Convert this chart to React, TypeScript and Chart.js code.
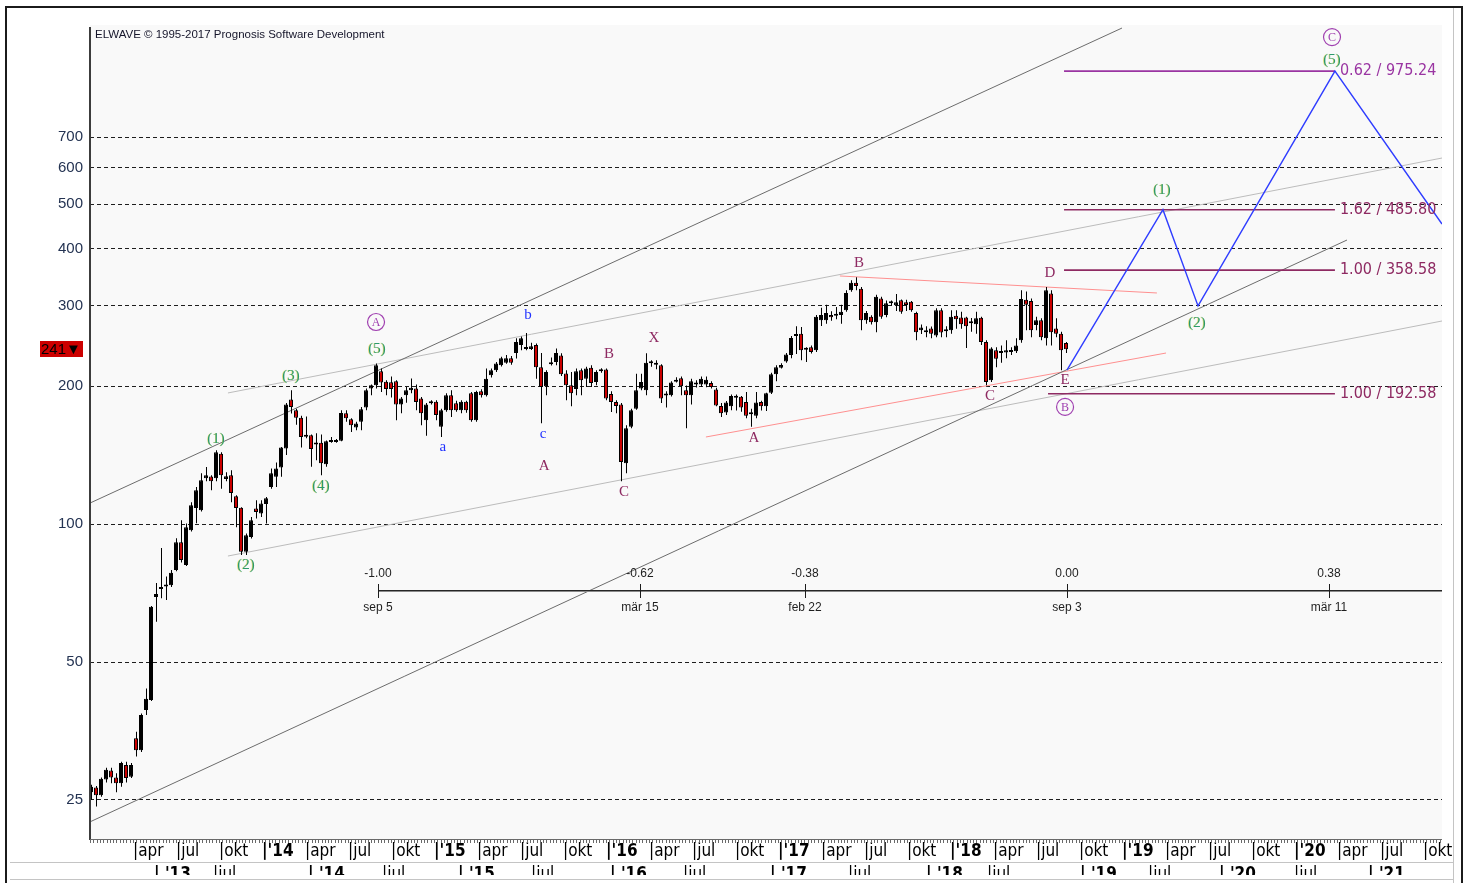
import React, { useEffect, useRef } from 'react';
import { Chart, registerables } from 'chart.js';

Chart.register(...registerables);

// ---------------- price bars ----------------
const opens = [
  26.0, 26.6, 25.6, 27.7, 29.0, 28.0, 27.2, 29.8, 28.1, 34.1,
  32.1, 39.3, 41.3, 69.3, 72.2, 73.1, 73.6, 79.4, 91.3, 81.4,
  97.0, 108.4, 107.3, 125.9, 127.0, 125.9, 142.5, 125.5, 127.8, 115.1,
  108.6, 87.0, 93.8, 108.2, 105.5, 110.6, 120.5, 126.9, 133.0, 146.3,
  187.1, 177.3, 170.7, 155.1, 156.4, 150.8, 150.5, 135.2, 151.2, 151.2,
  152.0, 174.6, 169.4, 162.5, 167.3, 179.7, 197.7, 201.0, 215.7, 204.5,
  204.2, 205.1, 182.4, 191.3, 196.0, 197.7, 188.0, 168.6, 183.6, 185.0,
  163.1, 177.3, 191.3, 183.6, 177.3, 185.0, 193.0, 168.6, 195.0, 191.3,
  211.4, 216.8, 222.3, 225.0, 230.3, 236.5, 246.2, 241.3, 241.3, 246.2,
  220.1, 200.0, 223.4, 226.0, 233.5, 213.2, 201.0, 197.4, 216.8, 207.8,
  219.5, 204.3, 217.8, 217.5, 192.3, 184.8, 182.4, 135.9, 163.1, 178.6,
  197.7, 196.0, 225.0, 224.2, 222.3, 192.2, 191.3, 204.5, 208.3, 196.0,
  191.3, 201.7, 201.7, 201.7, 203.3, 196.7, 181.2, 175.2, 180.8, 188.9,
  189.8, 184.8, 175.2, 172.5, 184.8, 180.8, 193.6, 212.5, 219.6, 226.6,
  234.2, 257.6, 260.3, 240.2, 243.3, 239.7, 278.6, 278.6, 286.2, 285.0,
  286.2, 293.0, 324.0, 336.5, 326.7, 278.6, 283.8, 275.8, 311.0, 286.2,
  303.5, 300.6, 308.4, 305.3, 305.8, 288.9, 265.0, 262.3, 267.3, 258.0,
  293.0, 263.7, 265.0, 285.0, 282.7, 282.7, 274.4, 273.1, 282.1, 250.0,
  206.1, 239.7, 236.5, 236.9, 239.7, 238.5, 252.0, 309.0, 306.9, 272.0,
  278.6, 254.6, 318.7, 267.3, 260.6, 248.7,
];
const highs = [
  27.0, 26.8, 28.0, 29.4, 29.4, 28.6, 30.3, 30.3, 30.1, 35.2,
  38.6, 43.8, 66.3, 74.4, 88.7, 76.9, 79.4, 93.2, 102.0, 100.3,
  111.7, 120.6, 129.1, 133.3, 127.8, 145.0, 143.5, 129.8, 131.2, 115.7,
  108.9, 95.4, 103.7, 112.8, 112.8, 114.7, 132.3, 136.4, 147.3, 183.9,
  196.0, 178.6, 172.4, 171.8, 157.0, 158.0, 157.0, 152.2, 154.9, 153.4,
  177.3, 177.3, 170.4, 167.3, 180.3, 197.8, 201.7, 224.2, 218.7, 206.1,
  210.0, 206.1, 189.6, 199.4, 208.0, 201.7, 189.6, 183.9, 186.4, 186.4,
  178.6, 193.0, 196.0, 186.0, 186.4, 186.0, 194.3, 195.6, 197.0, 218.7,
  218.7, 226.0, 232.0, 234.0, 233.0, 254.6, 257.0, 261.3, 249.0, 248.0,
  236.5, 216.8, 231.0, 241.7, 236.0, 216.8, 215.0, 218.7, 218.7, 220.5,
  222.3, 216.8, 219.0, 218.7, 195.0, 186.4, 183.9, 164.5, 178.6, 213.0,
  213.0, 236.0, 228.0, 228.0, 223.4, 195.0, 205.1, 209.4, 210.0, 200.7,
  207.8, 206.1, 210.0, 210.0, 205.1, 198.6, 183.9, 185.8, 192.0, 192.0,
  190.4, 194.3, 178.6, 194.3, 186.0, 193.6, 214.1, 222.3, 224.6, 236.5,
  257.6, 270.5, 269.3, 243.3, 245.4, 286.2, 296.7, 301.5, 291.6, 298.0,
  301.5, 324.0, 340.6, 346.0, 329.6, 292.0, 286.0, 316.7, 313.6, 308.0,
  308.0, 318.0, 309.3, 309.0, 306.9, 290.8, 273.0, 270.6, 270.0, 296.0,
  296.0, 270.5, 293.0, 293.0, 290.8, 283.8, 282.0, 291.0, 283.8, 252.0,
  243.5, 243.5, 245.4, 252.0, 243.5, 254.6, 324.0, 322.0, 311.0, 283.8,
  281.4, 329.6, 324.0, 281.4, 263.0, 250.0,
];
const lows = [
  25.0, 24.2, 25.4, 27.3, 27.2, 26.0, 26.7, 27.3, 27.9, 31.1,
  31.8, 38.3, 41.1, 61.2, 68.9, 68.3, 72.9, 78.9, 82.5, 81.0,
  96.4, 100.5, 106.6, 124.0, 118.6, 124.0, 119.5, 124.0, 111.7, 98.5,
  85.6, 85.6, 93.1, 102.9, 103.7, 100.3, 119.5, 120.6, 126.9, 141.5,
  174.4, 164.9, 147.0, 154.0, 133.4, 137.9, 127.8, 133.4, 150.5, 150.5,
  151.8, 167.3, 159.0, 160.4, 160.4, 177.3, 191.3, 197.7, 194.3, 191.3,
  189.0, 168.6, 174.6, 184.0, 193.0, 177.3, 164.5, 155.9, 182.4, 168.6,
  154.9, 176.0, 171.4, 176.0, 174.6, 175.0, 167.3, 167.3, 189.0, 190.0,
  209.0, 215.0, 221.0, 224.0, 223.0, 230.0, 239.7, 239.7, 240.0, 207.8,
  166.1, 191.3, 222.0, 222.3, 210.5, 186.4, 180.8, 191.3, 191.3, 199.2,
  199.2, 201.0, 214.0, 186.4, 175.7, 174.6, 124.0, 129.2, 162.0, 177.8,
  196.0, 191.3, 220.7, 218.0, 183.9, 179.7, 190.0, 203.8, 191.3, 162.0,
  182.4, 198.8, 199.2, 199.0, 197.7, 180.8, 171.4, 173.1, 177.3, 177.0,
  176.0, 170.4, 163.1, 170.4, 177.0, 176.6, 192.3, 205.1, 218.7, 225.0,
  230.3, 235.3, 227.9, 226.0, 235.8, 237.7, 270.9, 274.0, 278.0, 280.0,
  274.0, 290.8, 321.5, 324.0, 265.0, 274.0, 273.0, 262.3, 281.0, 283.0,
  300.0, 292.0, 288.0, 292.0, 290.8, 252.0, 260.0, 256.0, 254.6, 256.0,
  256.0, 256.0, 260.6, 267.0, 267.0, 242.4, 263.0, 260.6, 246.0, 201.0,
  204.3, 220.1, 225.0, 230.3, 234.0, 236.5, 249.0, 265.0, 255.8, 265.0,
  252.0, 245.4, 245.4, 255.8, 216.8, 236.5,
];
const closes = [
  26.7, 25.6, 27.8, 29.1, 28.0, 27.2, 30.1, 27.9, 29.8, 32.1,
  38.3, 41.6, 66.0, 70.4, 72.9, 73.6, 78.3, 91.3, 83.5, 98.5,
  110.0, 118.6, 124.7, 127.8, 124.0, 143.5, 127.8, 127.3, 116.9, 108.4,
  87.0, 94.6, 102.0, 106.3, 111.0, 113.9, 129.1, 132.3, 147.0, 182.4,
  180.2, 170.7, 154.9, 155.9, 145.9, 149.3, 135.9, 151.8, 152.2, 152.5,
  174.8, 170.3, 164.5, 165.9, 178.2, 196.0, 201.0, 222.3, 203.8, 197.4,
  197.4, 182.4, 188.0, 196.0, 198.6, 184.8, 174.6, 182.4, 185.0, 173.1,
  177.3, 191.3, 177.3, 177.3, 185.0, 177.3, 168.6, 194.3, 191.3, 207.8,
  216.8, 224.2, 230.3, 230.3, 225.0, 250.0, 254.6, 242.4, 244.5, 220.1,
  199.2, 215.0, 225.5, 236.5, 212.5, 201.0, 193.0, 215.7, 206.1, 218.7,
  203.3, 215.0, 215.7, 188.0, 184.8, 181.2, 136.6, 162.0, 177.3, 196.0,
  204.3, 225.0, 224.6, 223.0, 188.0, 191.0, 203.8, 206.1, 200.0, 191.3,
  205.1, 203.3, 207.8, 206.8, 199.2, 181.6, 174.6, 184.4, 190.4, 190.4,
  179.7, 172.5, 173.8, 184.4, 180.8, 193.0, 212.5, 220.1, 222.6, 234.7,
  255.0, 258.5, 239.7, 241.7, 237.7, 283.8, 286.2, 288.9, 283.1, 287.0,
  290.8, 319.7, 336.5, 331.1, 278.6, 288.9, 275.8, 313.6, 283.8, 303.5,
  306.0, 305.0, 291.0, 301.0, 293.0, 262.3, 268.7, 265.0, 260.6, 293.0,
  262.0, 265.9, 283.8, 280.0, 273.1, 270.6, 275.8, 281.4, 250.0, 204.3,
  241.7, 229.8, 237.8, 239.7, 237.7, 245.4, 310.2, 301.5, 265.0, 278.6,
  255.8, 324.0, 262.3, 260.6, 239.7, 240.8,
];
const firstBarYear = 2013.0058;
const barStepYears = 0.0290698;

// ---------------- axes ----------------
const xMinYear = 2013;
const xMaxYear = 2020.8605;
const yMinValue = 20.44;
const yMaxValue = 1229.6;
const yTickValues = [25, 50, 100, 200, 300, 400, 500, 600, 700];
const axisYears = [2013, 2014, 2015, 2016, 2017, 2018, 2019, 2020];
const quarterNames = ['', 'apr', 'jul', 'okt'];
const lowerRowLabels = ["| '13", '|jul', "| '14", '|jul', "| '15", '|jul', "| '16", '|jul', "| '17", '|jul', "| '18", '|jul', "| '19", '|jul', "| '20", '|jul', "| '21"];

// ---------------- channel / trend lines ----------------
const trendStartYear = [2013.0, 2013.0, 2013.802, 2013.802, 2017.36, 2016.581];
const trendStartValue = [111.2, 22.39, 193.4, 85.2, 348.2, 155.0];
const trendEndYear = [2019.0, 2020.308, 2020.8605, 2020.8605, 2019.203, 2019.256];
const trendEndValue = [1211, 417.2, 630, 277.7, 319.7, 236.4];
const trendColors = ['#6c6c6c', '#6c6c6c', '#bcbcbc', '#bcbcbc', '#ff9090', '#ff9090'];

// ---------------- fibonacci targets ----------------
const fibRatios = ['0.62', '1.62', '1.00', '1.00'];
const fibValues = [975.24, 485.8, 358.58, 192.58];
const fibStartYear = [2018.663, 2018.663, 2018.663, 2018.57];
const fibEndYear = [2020.238, 2020.238, 2020.238, 2020.238];
const fibColors = ['#9a35a2', '#8e2a62', '#8e2a62', '#8e2a62'];

// ---------------- projected path ----------------
const projYears = [2018.68, 2019.238, 2019.442, 2020.238, 2020.8605];
const projValues = [216.8, 485.8, 299.5, 975.24, 452];

// ---------------- time-ratio ruler ----------------
const ratioLabels = ['-1.00', '-0.62', '-0.38', '0.00', '0.38'];
const ratioDates = ['sep 5', 'mär 15', 'feb 22', 'sep 3', 'mär 11'];
const ratioYears = [2014.6744, 2016.1977, 2017.157, 2018.68, 2020.203];
const ratioAxisValue = 71.5;

// ---------------- wave labels ----------------
const greenLabelText = ['(1)', '(2)', '(3)', '(4)', '(5)', '(1)', '(2)', '(5)'];
const greenLabelYear = [2013.733, 2013.907, 2014.169, 2014.343, 2014.669, 2019.233, 2019.436, 2020.221];
const greenLabelValue = [153.5, 81.5, 210.6, 121.2, 241.2, 536.4, 274.9, 1031];
const blueLabelText = ['a', 'b', 'c'];
const blueLabelYear = [2015.052, 2015.547, 2015.634];
const blueLabelValue = [147.4, 286.1, 157.3];
const maroonLabelText = ['A', 'B', 'C', 'X', 'A', 'B', 'C', 'D', 'E'];
const maroonLabelYear = [2015.64, 2016.017, 2016.105, 2016.279, 2016.86, 2017.471, 2018.233, 2018.581, 2018.669];
const maroonLabelValue = [134.0, 235.2, 117.6, 255.0, 154.3, 371.7, 190.5, 353.5, 206.4];
const circledLabelText = ['A', 'B', 'C'];
const circledLabelYear = [2014.663, 2018.669, 2020.221];
const circledLabelValue = [276.3, 180.3, 1157];

const SANS = '"Liberation Sans", Arial, sans-serif';
const NARROW = '"Liberation Sans Narrow", "Arial Narrow", "DejaVu Sans Condensed", sans-serif';
const SERIF = '"Liberation Serif", "Times New Roman", serif';

function txt(ctx: any, s: string, x: number, y: number, font: string, color: string, align = 'center', baseline = 'middle') {
  ctx.font = font;
  ctx.fillStyle = color;
  ctx.textAlign = align;
  ctx.textBaseline = baseline;
  ctx.fillText(s, x, y);
}

const decorPlugin = {
  id: 'elwaveDecor',
  beforeDraw(chart: any) {
    const { ctx, chartArea: a, width, height } = chart;
    ctx.save();
    ctx.fillStyle = '#ffffff';
    ctx.fillRect(0, 0, width, height);
    ctx.fillStyle = '#f9f9f9';
    ctx.fillRect(a.left, a.top, a.right - a.left, a.bottom - a.top);
    ctx.restore();
  },
  afterDraw(chart: any) {
    const { ctx, chartArea: a, height } = chart;
    const xs = chart.scales.x;
    const ys = chart.scales.y;
    const px = (t: number) => xs.getPixelForValue(t);
    const py = (v: number) => ys.getPixelForValue(v);
    ctx.save();

    // outer frame
    ctx.fillStyle = '#1b1b1b';
    ctx.fillRect(5, 6, 2, height - 6);
    ctx.fillRect(5, 6, 1458, 2);
    ctx.fillRect(1461, 6, 2, height - 6);
    ctx.fillStyle = '#c4c4c4';
    ctx.fillRect(1453, 8, 1, height - 8);
    ctx.fillRect(10, 862, 1443, 1);
    ctx.fillRect(10, 879, 1443, 1);

    // axis lines + weekly minor ticks
    ctx.fillStyle = '#3c3c3c';
    ctx.fillRect(a.left - 1, a.top + 2, 2, a.bottom - a.top - 2);
    ctx.fillStyle = '#6a6a6a';
    ctx.fillRect(a.left, a.bottom - 1, a.right - a.left, 1);
    for (let t = xMinYear; t <= xMaxYear; t += 1 / 52) {
      ctx.fillRect(Math.round(px(t)), a.bottom, 1, 3);
    }

    // second (clipped) time row
    ctx.save();
    ctx.beginPath();
    ctx.rect(10, 864, 1443, 11);
    ctx.clip();
    const rowX = [154, 213, 308, 382, 458, 531, 610, 683, 770, 848, 926, 987, 1080, 1148, 1219, 1294, 1368];
    lowerRowLabels.forEach((s, i) => {
      const bold = s.indexOf("'") >= 0;
      txt(ctx, s, rowX[i], 866, `${bold ? 'bold ' : ''}17px ${NARROW}`, '#000', 'left', 'top');
    });
    ctx.restore();

    // copyright
    txt(ctx, 'ELWAVE © 1995-2017 Prognosis Software Development', a.left + 5, a.top + 10, `11.5px ${SANS}`, '#15152a', 'left');

    // last price marker
    const last = closes[closes.length - 1];
    const yM = py(last);
    ctx.fillStyle = '#cc0000';
    ctx.fillRect(a.left - 50, Math.round(yM) - 8, 43, 16);
    txt(ctx, `${Math.round(last)}▼`, a.left - 49, yM + 1, `15px ${SANS}`, '#000', 'left');

    // time ratio ruler
    const yL = Math.round(py(ratioAxisValue));
    const x0 = px(ratioYears[0]);
    ctx.fillStyle = '#262626';
    ctx.fillRect(x0, yL - 1, a.right - x0, 1);
    ctx.fillStyle = '#8a8a8a';
    ctx.fillRect(x0, yL, a.right - x0, 1);
    ratioYears.forEach((t, i) => {
      const x = Math.round(px(t));
      ctx.fillStyle = '#1c1c1c';
      ctx.fillRect(x, yL - 7, 1, 14);
      txt(ctx, ratioLabels[i], x, yL - 17, `12px ${SANS}`, '#1e1e1e');
      txt(ctx, ratioDates[i], x, yL + 17, `12px ${SANS}`, '#1e1e1e');
    });

    // fib texts
    fibValues.forEach((v, i) => {
      txt(ctx, `${fibRatios[i]} / ${v.toFixed(2)}`, px(fibEndYear[i]) + 5, py(v), `16px ${NARROW}`, fibColors[i], 'left');
    });

    // wave labels
    greenLabelText.forEach((s, i) => {
      const x = px(greenLabelYear[i]);
      const y = py(greenLabelValue[i]);
      txt(ctx, s, x - 0.7, y, `15px ${SERIF}`, 'rgba(215,205,60,0.7)');
      txt(ctx, s, x, y, `15px ${SERIF}`, '#2c9a6c');
    });
    blueLabelText.forEach((s, i) => {
      txt(ctx, s, px(blueLabelYear[i]), py(blueLabelValue[i]), `15px ${SERIF}`, '#2233ff');
    });
    maroonLabelText.forEach((s, i) => {
      txt(ctx, s, px(maroonLabelYear[i]), py(maroonLabelValue[i]), `15px ${SERIF}`, '#8e2a62');
    });
    circledLabelText.forEach((s, i) => {
      const x = px(circledLabelYear[i]);
      const y = py(circledLabelValue[i]);
      ctx.beginPath();
      ctx.arc(x, y, 8.5, 0, Math.PI * 2);
      ctx.strokeStyle = '#a040b0';
      ctx.lineWidth = 1.2;
      ctx.stroke();
      txt(ctx, s, x, y + 0.5, `12px ${SERIF}`, '#a040b0');
    });

    ctx.restore();
  },
};

export default function App() {
  const ref = useRef<HTMLCanvasElement>(null);

  useEffect(() => {
    document.body.style.margin = '0';
    const canvas = ref.current;
    if (!canvas) return;
    Chart.defaults.font.family = SANS;

    const barYears = closes.map((_, i) => firstBarYear + i * barStepYears);
    const wickShift = 0.0029;
    const bodyData = barYears.map((x, i) => ({ x, y: [opens[i], closes[i]] }));
    const wickData = barYears.map((x, i) => ({ x: x + wickShift, y: [lows[i], highs[i]] }));
    const bodyColors = closes.map((c, i) => (c >= opens[i] ? '#000000' : '#cc0000'));

    const lineDs = (data: any[], color: string, width: number, order: number) => ({
      type: 'line',
      data,
      borderColor: color,
      borderWidth: width,
      pointRadius: 0,
      pointHoverRadius: 0,
      fill: false,
      tension: 0,
      order,
    });

    const datasets: any[] = [
      lineDs(projYears.map((x, i) => ({ x, y: projValues[i] })), '#2f3dff', 1.4, 0),
      {
        type: 'bar',
        data: bodyData,
        backgroundColor: bodyColors,
        borderColor: '#000000',
        borderWidth: 1,
        borderSkipped: false,
        barThickness: 4,
        grouped: false,
        minBarLength: 2,
        inflateAmount: 0,
        order: 1,
      },
      {
        type: 'bar',
        data: wickData,
        backgroundColor: '#000000',
        borderWidth: 0,
        barThickness: 1,
        grouped: false,
        inflateAmount: 0,
        order: 2,
      },
    ];
    fibValues.forEach((v, i) => {
      datasets.push(lineDs([{ x: fibStartYear[i], y: v }, { x: fibEndYear[i], y: v }], fibColors[i], 1.6, 1));
    });
    trendStartYear.forEach((t, i) => {
      datasets.push(lineDs([{ x: t, y: trendStartValue[i] }, { x: trendEndYear[i], y: trendEndValue[i] }], trendColors[i], 1, 3));
    });

    const xTicks: number[] = [];
    axisYears.forEach((yr) => {
      quarterNames.forEach((_, q) => {
        const v = yr + q / 4;
        if (v > xMinYear && v < xMaxYear) xTicks.push(v);
      });
    });

    const chart = new Chart(canvas, {
      type: 'bar',
      data: { datasets },
      options: {
        animation: false,
        responsive: false,
        maintainAspectRatio: false,
        devicePixelRatio: 1,
        events: [],
        layout: { padding: { left: 0, top: 25, right: 25, bottom: 0 } },
        plugins: { legend: { display: false }, tooltip: { enabled: false } },
        scales: {
          x: {
            type: 'linear',
            min: xMinYear,
            max: xMaxYear,
            offset: false,
            afterBuildTicks: (s: any) => {
              s.ticks = xTicks.map((value) => ({ value }));
            },
            afterFit: (s: any) => {
              s.height = 43;
              s.paddingLeft = 0;
              s.paddingRight = 0;
            },
            grid: { display: false, drawTicks: false },
            border: { display: false },
            ticks: {
              autoSkip: false,
              maxRotation: 0,
              minRotation: 0,
              align: 'start',
              padding: 1,
              color: '#000000',
              font: (c: any) => ({
                family: NARROW,
                size: 17,
                weight: c.tick && Number.isInteger(c.tick.value) ? 'bold' : 'normal',
              }),
              callback: (v: any) => {
                const n = Number(v);
                const yr = Math.floor(n + 1e-6);
                const q = Math.round((n - yr) * 4);
                return q === 0 ? `|'${String(yr).slice(2)}` : `|${quarterNames[q]}`;
              },
            },
          },
          y: {
            type: 'logarithmic',
            min: yMinValue,
            max: yMaxValue,
            beginAtZero: false,
            afterBuildTicks: (s: any) => {
              s.ticks = yTickValues.map((value) => ({ value }));
            },
            afterFit: (s: any) => {
              s.width = 90;
              s.paddingTop = 0;
              s.paddingBottom = 0;
            },
            grid: { color: '#1e1e1e', lineWidth: 1, drawTicks: false },
            border: { display: false, dash: [4, 3] },
            ticks: {
              autoSkip: false,
              padding: 7,
              color: '#243352',
              font: { family: SANS, size: 15 },
              callback: (v: any) => String(v),
            },
          },
        },
      } as any,
      plugins: [decorPlugin],
    } as any);

    return () => chart.destroy();
  }, []);

  return (
    <div style={{ position: 'absolute', left: 0, top: 0, width: 1467, height: 883, background: '#fff' }}>
      <canvas ref={ref} width={1467} height={883} style={{ display: 'block', width: 1467, height: 883 }} />
    </div>
  );
}
